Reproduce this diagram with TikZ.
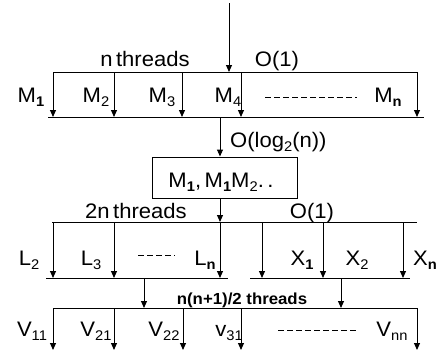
\documentclass[tikz,border=0pt]{standalone}
\usepackage{fontspec}
\setmainfont{Liberation Sans}[FakeStretch=1.05]
\usetikzlibrary{arrows.meta}
\newcommand\lsub[1]{\raisebox{-4.5pt}{\fontsize{14}{14}\selectfont #1}}
\newcommand\lbsub[1]{\raisebox{-4.5pt}{\fontsize{14}{14}\selectfont\bfseries #1}}
\tikzset{
  line/.style={line width=1pt},
  arr/.style={line width=1pt,-{Triangle[length=7pt,width=6pt]}},
  lbl/.style={inner sep=0pt,anchor=base,font=\fontsize{21}{21}\selectfont},
  smlbl/.style={inner sep=0pt,anchor=base,font=\fontsize{16}{16}\selectfont\bfseries},
  dots/.style={line width=0.8pt,dash pattern=on 6pt off 3pt},
  box/.style={draw,line width=1pt,minimum width=145pt,minimum height=41pt,inner sep=0pt}
}
\begin{document}
\begin{tikzpicture}[x=1pt,y=-1pt]
\useasboundingbox (0,0) rectangle (442,360);
% ---------- row 1
\coordinate (inTop) at (229,3);
\coordinate (b1L) at (53,72);
\coordinate (b1R) at (417,72);
\coordinate (b2L) at (48,117);
\coordinate (b2R) at (424,117);
\draw[line] (b1L) -- (b1R);
\draw[line] (b2L) -- (b2R);
\draw[arr] (inTop) -- (inTop |- b1L);
\foreach \x/\n in {53/m1,114/m2,182/m3,241/m4,417/mn}{
  \coordinate (\n) at (\x,72);
  \draw[arr] (\n) -- (\n |- b2L);
}
\node[lbl] (nthr) at (145,66) {n\,threads};
\node[lbl] (o1a) at (277,66) {O(1)};
\node[lbl] (lm1) at (31,102) {M\lbsub{1}};
\node[lbl] (lm2) at (96,102) {M\lsub{2}};
\node[lbl] (lm3) at (162,102) {M\lsub{3}};
\node[lbl] (lm4) at (228,102) {M\lsub{4}};
\node[lbl] (lmn) at (388,102) {M\lbsub{n}};
\coordinate (d1a) at (265,97); \coordinate (d1b) at (357,97);
\draw[dots] (d1a) -- (d1b);
% ---------- box
\coordinate (s1) at (220,117);
\node[box] (box) at (224.5,177.5) {};
\node[lbl] (boxt) at (221,187) {M\lbsub{1},\,M\lbsub{1}M\lsub{2}.\,.};
\draw[arr] (s1) -- (s1 |- box.north);
\node[lbl,anchor=base west] (olog) at (230,147) {O(log\lsub{2}(n))};
% ---------- row 3
\coordinate (b3L) at (52,222);
\coordinate (b3R) at (417,222);
\draw[line] (b3L) -- (b3R);
\draw[arr] (s1 |- box.south) -- (s1 |- b3L);
\coordinate (b4L) at (46,278); \coordinate (b4M) at (228,278);
\coordinate (b5L) at (250,278); \coordinate (b5R) at (410,278);
\draw[line] (b4L) -- (b4M);
\draw[line] (b5L) -- (b5R);
\foreach \x/\n in {53/l1,114/l2,220/l3,262/x0,323/x1,403/xn}{
  \coordinate (\n) at (\x,222);
  \draw[arr] (\n) -- (\n |- b4L);
}
\node[lbl] (twon) at (136,218) {2n\,threads};
\node[lbl] (o1b) at (312,218) {O(1)};
\node[lbl] (ll2) at (29,265) {L\lsub{2}};
\node[lbl] (ll3) at (91,265) {L\lsub{3}};
\node[lbl] (lln) at (205,265) {L\lbsub{n}};
\node[lbl] (lx1) at (302,265) {X\lbsub{1}};
\node[lbl] (lx2) at (357,265) {X\lsub{2}};
\node[lbl] (lxn) at (425,265) {X\lbsub{n}};
\coordinate (d2a) at (138,255); \coordinate (d2b) at (175,255);
\draw[dots] (d2a) -- (d2b);
% ---------- row 4
\coordinate (t1) at (144,278);
\coordinate (t2) at (341,278);
\coordinate (b6L) at (53,308);
\coordinate (b6R) at (417,308);
\coordinate (b7) at (0,350);
\draw[line] (b6L) -- (b6R);
\draw[arr] (t1) -- (t1 |- b6L);
\draw[arr] (t2) -- (t2 |- b6L);
\node[smlbl] (nn) at (242,304) {n(n+1)/2 threads};
\foreach \x/\n in {53/v1,114/v2,183/v3,241/v4,417/vn}{
  \coordinate (\n) at (\x,308);
  \draw[arr] (\n) -- (\n |- b7);
}
\node[lbl] (lv11) at (32,336) {V\lsub{11}};
\node[lbl] (lv21) at (96,336) {V\lsub{21}};
\node[lbl] (lv22) at (164,336) {V\lsub{22}};
\node[lbl] (lv31) at (229,336) {v\lsub{31}};
\node[lbl] (lvnn) at (392,336) {V\lsub{nn}};
\coordinate (d3a) at (278,330); \coordinate (d3b) at (357,330);
\draw[dots] (d3a) -- (d3b);
\end{tikzpicture}
\end{document}
